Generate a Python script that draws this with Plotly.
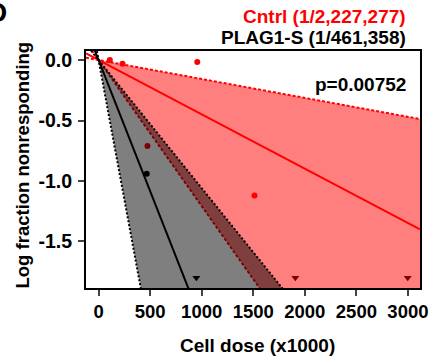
import plotly.graph_objects as go

# ---- data ----
ctrl_freq = 2227277          # 1/frequency estimate (cells)
ctrl_ci_low = 6390000        # shallower CI bound
ctrl_ci_high = 828000        # steeper CI bound
plag_freq = 461358
plag_ci_low = 944000
plag_ci_high = 217000

ctrl_dose = [109, 232, 957, 474, 1512]
ctrl_logfrac = [0.0, -0.03, -0.015, -0.71, -1.12]
ctrl_all_resp_dose = [1908, 2998]
plag_dose = [467]
plag_logfrac = [-0.94]
plag_all_resp_dose = [948]
floor_y = -1.80

xtick_vals = [0, 500, 1000, 1500, 2000, 2500, 3000]
xtick_text = ["0", "500", "1000", "1500", "2000", "2500", "3000"]
ytick_vals = [0.0, -0.5, -1.0, -1.5]
ytick_text = ["0.0", "-0.5", "-1.0", "-1.5"]

XMIN, XMAX = -122, 3117
YMIN, YMAX = -1.885, 0.075

W, H = 440, 360
L, R, T, B = 86, 20, 51, 72
PW, PH = W - L - R, H - T - B


def px(xp):
    return (xp - L) / PW


def py(yp):
    return (H - B - yp) / PH


def line_y(xs, f):
    return [-x * 1000.0 / f for x in xs]


FONT = "Liberation Sans, Arial, sans-serif"
fig = go.Figure()

red = "#ff0000"
xs_line = [XMIN, XMAX]

# Cntrl fill
fig.add_trace(go.Scatter(x=[0, XMAX, XMAX, 0], y=[0] + line_y([XMAX], ctrl_ci_high) + line_y([XMAX], ctrl_ci_low) + [0],
                         fill="toself", fillcolor="rgba(255,0,0,0.5)", line=dict(width=0), mode="lines",
                         hoverinfo="skip", showlegend=False))
fig.add_trace(go.Scatter(x=xs_line, y=line_y(xs_line, ctrl_freq), mode="lines",
                         line=dict(color=red, width=2), showlegend=False))
for f in (ctrl_ci_low, ctrl_ci_high):
    fig.add_trace(go.Scatter(x=xs_line, y=line_y(xs_line, f), mode="lines",
                             line=dict(color=red, width=2, dash="3px,2px"), showlegend=False))
fig.add_trace(go.Scatter(x=ctrl_dose, y=ctrl_logfrac, mode="markers",
                         marker=dict(color=red, size=6), showlegend=False))
fig.add_trace(go.Scatter(x=ctrl_all_resp_dose, y=[floor_y] * len(ctrl_all_resp_dose), mode="markers",
                         marker=dict(color="#800000", size=7, symbol="triangle-down"), showlegend=False))

# PLAG1-S fill
fig.add_trace(go.Scatter(x=[0, XMAX, XMAX, 0], y=[0] + line_y([XMAX], plag_ci_high) + line_y([XMAX], plag_ci_low) + [0],
                         fill="toself", fillcolor="rgba(0,0,0,0.5)", line=dict(width=0), mode="lines",
                         hoverinfo="skip", showlegend=False))
fig.add_trace(go.Scatter(x=xs_line, y=line_y(xs_line, plag_freq), mode="lines",
                         line=dict(color="black", width=2), showlegend=False))
for f in (plag_ci_low, plag_ci_high):
    fig.add_trace(go.Scatter(x=xs_line, y=line_y(xs_line, f), mode="lines",
                             line=dict(color="black", width=2, dash="2px,2px"), showlegend=False))
fig.add_trace(go.Scatter(x=plag_dose, y=plag_logfrac, mode="markers",
                         marker=dict(color="black", size=6), showlegend=False))
fig.add_trace(go.Scatter(x=plag_all_resp_dose, y=[floor_y] * len(plag_all_resp_dose), mode="markers",
                         marker=dict(color="black", size=7, symbol="triangle-down"), showlegend=False))

ann = [
    dict(text="<b>Cntrl (1/2,227,277)</b>", x=px(408), y=py(17), xanchor="right", yanchor="middle",
         font=dict(size=19, color=red)),
    dict(text="<b>PLAG1-S (1/461,358)</b>", x=px(408), y=py(37.5), xanchor="right", yanchor="middle",
         font=dict(size=19, color="black")),
    dict(text="<b>p=0.00752</b>", x=px(408), y=py(84), xanchor="right", yanchor="middle",
         font=dict(size=19, color="black")),
    dict(text="<b>Log fraction nonresponding</b>", x=px(21.5), y=py(165), xanchor="center", yanchor="middle",
         textangle=-90, font=dict(size=18.5, color="black")),
    dict(text="<b>Cell dose (x1000)</b>", x=px(257.5), y=py(345), xanchor="center", yanchor="middle",
         font=dict(size=19, color="black")),
    dict(text="<b>D</b>", x=px(9), y=py(12), xanchor="right", yanchor="middle",
         font=dict(size=28, color="black")),
]
for a in ann:
    a.update(xref="paper", yref="paper", showarrow=False)

fig.update_layout(
    width=W, height=H, margin=dict(l=L, r=R, t=T, b=B, pad=0),
    plot_bgcolor="white", paper_bgcolor="white",
    font=dict(family=FONT, size=18, color="black"),
    annotations=ann,
    xaxis=dict(range=[XMIN, XMAX], tickvals=xtick_vals, ticktext=["<b>%s</b>" % t for t in xtick_text],
               ticks="outside", ticklen=6, tickwidth=2,
               showline=True, linewidth=2, linecolor="black", mirror=True, showgrid=False, zeroline=False,
               tickfont=dict(size=18.5)),
    yaxis=dict(range=[YMIN, YMAX], tickvals=ytick_vals, ticktext=["<b>%s</b>" % t for t in ytick_text],
               ticks="outside", ticklen=6, ticklabelstandoff=2,
               tickwidth=2, showline=True, linewidth=2, linecolor="black", mirror=True, showgrid=False,
               zeroline=False, tickfont=dict(size=19.5)),
)

fig.write_html("out.html", config={"displayModeBar": False},
               post_script="document.body.style.margin='0';")
